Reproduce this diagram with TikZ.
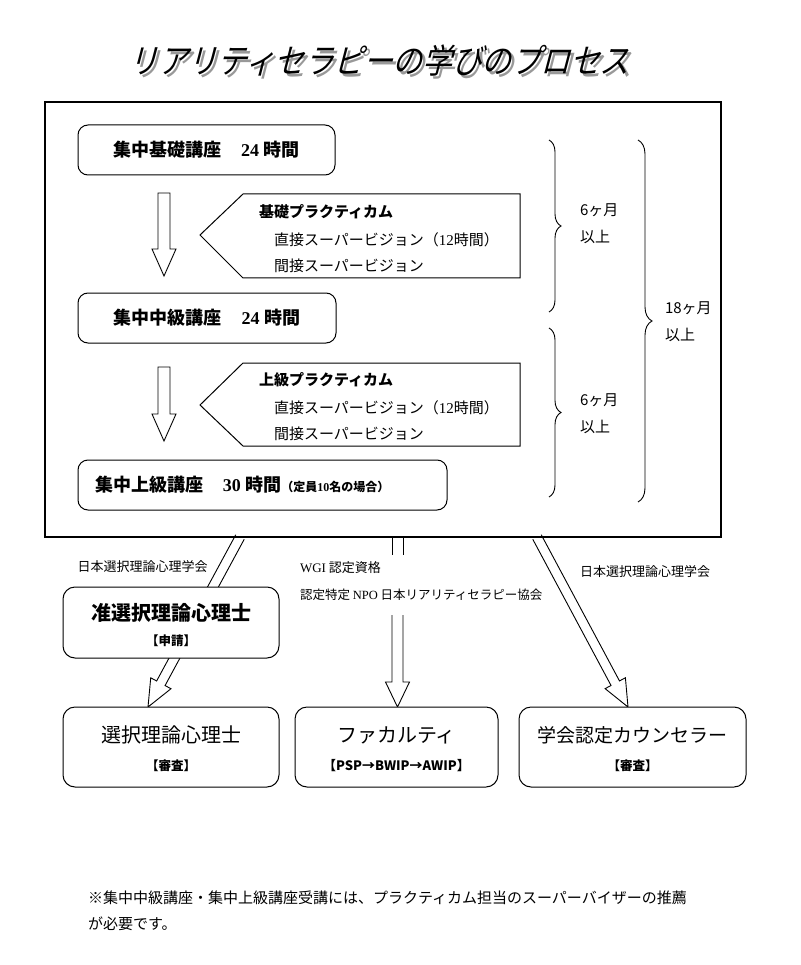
\documentclass[tikz,border=0pt]{standalone}
\usepackage{fontspec}
\usepackage{graphicx}
\setmainfont{Noto Sans CJK JP}
\newfontfamily\lser{Liberation Serif}
\newfontfamily\titlefont{Noto Sans CJK JP}[FakeSlant=0.3]
\usetikzlibrary{calc,decorations.pathreplacing}
\newcommand\myfs[1]{\fontsize{#1}{#1}\selectfont}
\newcommand\ttltext{\scalebox{0.87}[1]{\titlefont\myfs{34}リアリティセラピーの学びのプロセス}}
% block arrow: start, end, half shaft, half head, head length, tail (cycle or empty)
\newcommand\blkarrow[6]{%
  \coordinate (hb) at ($(#2)!#5!(#1)$);
  \draw[blk] ($(#1)!#3!90:(#2)$) -- ($(hb)!#3!90:(#2)$) -- ($(hb)!#4!90:(#2)$) -- (#2) -- ($(hb)!#4!-90:(#2)$) -- ($(hb)!#3!-90:(#2)$) -- ($(#1)!#3!-90:(#2)$) #6;}
\begin{document}
\begin{tikzpicture}[x=1pt,y=-1pt,
  every node/.style={inner sep=0pt, outer sep=0pt},
  frame/.style={draw, line width=1.4pt},
  stagebox/.style={draw, line width=1pt, rounded corners=10pt, minimum height=50pt, font=\myfs{18}\bfseries},
  pent/.style={draw, line width=1pt, line join=miter},
  blk/.style={draw, fill=white, line width=0.9pt, line join=miter},
  brc/.style={draw, line width=0.9pt, decorate, decoration={brace, amplitude=#1}},
  ptitle/.style={anchor=west, font=\myfs{15}\bfseries},
  pline/.style={anchor=west, font=\myfs{15}},
  mlabel/.style={anchor=west, font=\myfs{15}},
  slabel/.style={font=\myfs{13}},
  capbox/.style={draw, fill=white, line width=1pt, rounded corners=12pt, minimum height=80pt},
  captext/.style={font=\myfs{20}},
  capsub/.style={font=\myfs{12.5}\bfseries},
  foot/.style={anchor=west, font=\myfs{15}}]
\useasboundingbox (0,0) rectangle (800,965);
\fill[white] (0,0) rectangle (800,965);

% title with its shadow, in one node
\node (title) at (379,62) {\makebox[0pt][l]{\hspace{3pt}\raisebox{-3pt}{\color{black!40}\ttltext}}\ttltext};

% stage boxes
\node[stagebox, minimum width=257pt] (b1) at (206.5,150) {集中基礎講座\hspace{1.1em}{\lser 24}\hspace{0.25em}時間};
\node[stagebox, minimum width=258pt] (b2) at (207,318) {集中中級講座\hspace{1.1em}{\lser 24}\hspace{0.25em}時間};
\node[stagebox, minimum width=369pt] (b3) at (262.5,485) {};
\node[anchor=west, font=\myfs{18}\bfseries] (b3t) at (95,485) {集中上級講座\hspace{1.1em}{\lser 30}\hspace{0.25em}時間{\myfs{12}（定員{\lser 10}名の場合）}};

% down arrows
\coordinate (d1s) at (164,193);
\coordinate (d1e) at (164,276);
\coordinate (d2s) at (164,367);
\coordinate (d2e) at (164,441);
\blkarrow{d1s}{d1e}{6pt}{12pt}{27pt}{-- cycle}
\blkarrow{d2s}{d2e}{6pt}{12pt}{27pt}{-- cycle}

% practicum pentagons
\draw[pent] (200,235) -- (243,194) -- (520,194) -- (520,278) -- (243,278) -- cycle;
\node[ptitle] (p1a) at (259,212) {基礎プラクティカム};
\node[pline] (p1b) at (274,240) {直接スーパービジョン（{\lser 12}時間）};
\node[pline] (p1c) at (274,266) {間接スーパービジョン};
\draw[pent] (200,405) -- (243,363) -- (520,363) -- (520,446) -- (243,446) -- cycle;
\node[ptitle] (p2a) at (259,380) {上級プラクティカム};
\node[pline] (p2b) at (274,408) {直接スーパービジョン（{\lser 12}時間）};
\node[pline] (p2c) at (274,434) {間接スーパービジョン};

% braces
\draw[brc=12pt] (549,140) -- (549,312);
\draw[brc=12pt] (549,328) -- (549,497);
\draw[brc=14pt] (638,140) -- (638,502);
\node[mlabel] (m1a) at (580,210) {6ヶ月};
\node[mlabel] (m1b) at (580,237) {以上};
\node[mlabel] (m2a) at (580,400) {6ヶ月};
\node[mlabel] (m2b) at (580,427) {以上};
\node[mlabel] (m3a) at (665,308) {18ヶ月};
\node[mlabel] (m3b) at (665,335) {以上};

% arrows out of the main frame
\coordinate (la) at (240,537);
\coordinate (lb) at (148,707);
\blkarrow{la}{lb}{4.8pt}{11.5pt}{27pt}{}
\coordinate (ra) at (537,537);
\coordinate (rb) at (628,707);
\blkarrow{ra}{rb}{4.8pt}{11.5pt}{27pt}{}
\coordinate (ma) at (397.5,537);
\coordinate (mb) at (397.5,555);
\coordinate (mc) at (397.5,615);
\coordinate (md) at (397.5,707);
\draw[line width=0.9pt] ([xshift=-5.5pt]ma) -- ([xshift=-5.5pt]mb) ([xshift=5.5pt]ma) -- ([xshift=5.5pt]mb);
\blkarrow{mc}{md}{5.5pt}{12pt}{25pt}{}

% main frame
\draw[frame] (45,102) rectangle (721,537);

% result boxes
\node[capbox, minimum width=216pt, minimum height=71pt] (jun) at (171,622.5) {};
\node[captext, font=\myfs{20}\bfseries] (junt) at (171,613) {准選択理論心理士};
\node[capsub] (juns) at (171,641) {【申請】};
\node[capbox, minimum width=216pt] (sen) at (171,747) {};
\node[captext] (sent) at (171,735) {選択理論心理士};
\node[capsub] (sens) at (171,766) {【審査】};
\node[capbox, minimum width=203pt] (fac) at (396.5,747) {};
\node[captext] (fact) at (396.5,735) {ファカルティ};
\node[capsub, font=\myfs{13}\bfseries] (facs) at (396.5,766) {【PSP→BWIP→AWIP】};
\node[capbox, minimum width=227pt] (cou) at (632.5,747) {};
\node[captext, font=\myfs{19}] (cout) at (632.5,735) {学会認定カウンセラー};
\node[capsub] (cous) at (632.5,766) {【審査】};

% labels along arrows
\node[slabel] (l1) at (142.5,567) {日本選択理論心理学会};
\node[slabel, anchor=west] (l2) at (300,568) {{\lser WGI} 認定資格};
\node[slabel, anchor=west, font=\myfs{12.5}] (l3) at (300,595) {認定特定 {\lser NPO} 日本リアリティセラピー協会};
\node[slabel, anchor=west] (l4) at (580,572) {日本選択理論心理学会};

% footnote
\node[foot] (f1) at (88,898) {※集中中級講座・集中上級講座受講には、プラクティカム担当のスーパーバイザーの推薦};
\node[foot] (f2) at (88,924) {が必要です。};
\end{tikzpicture}
\end{document}
